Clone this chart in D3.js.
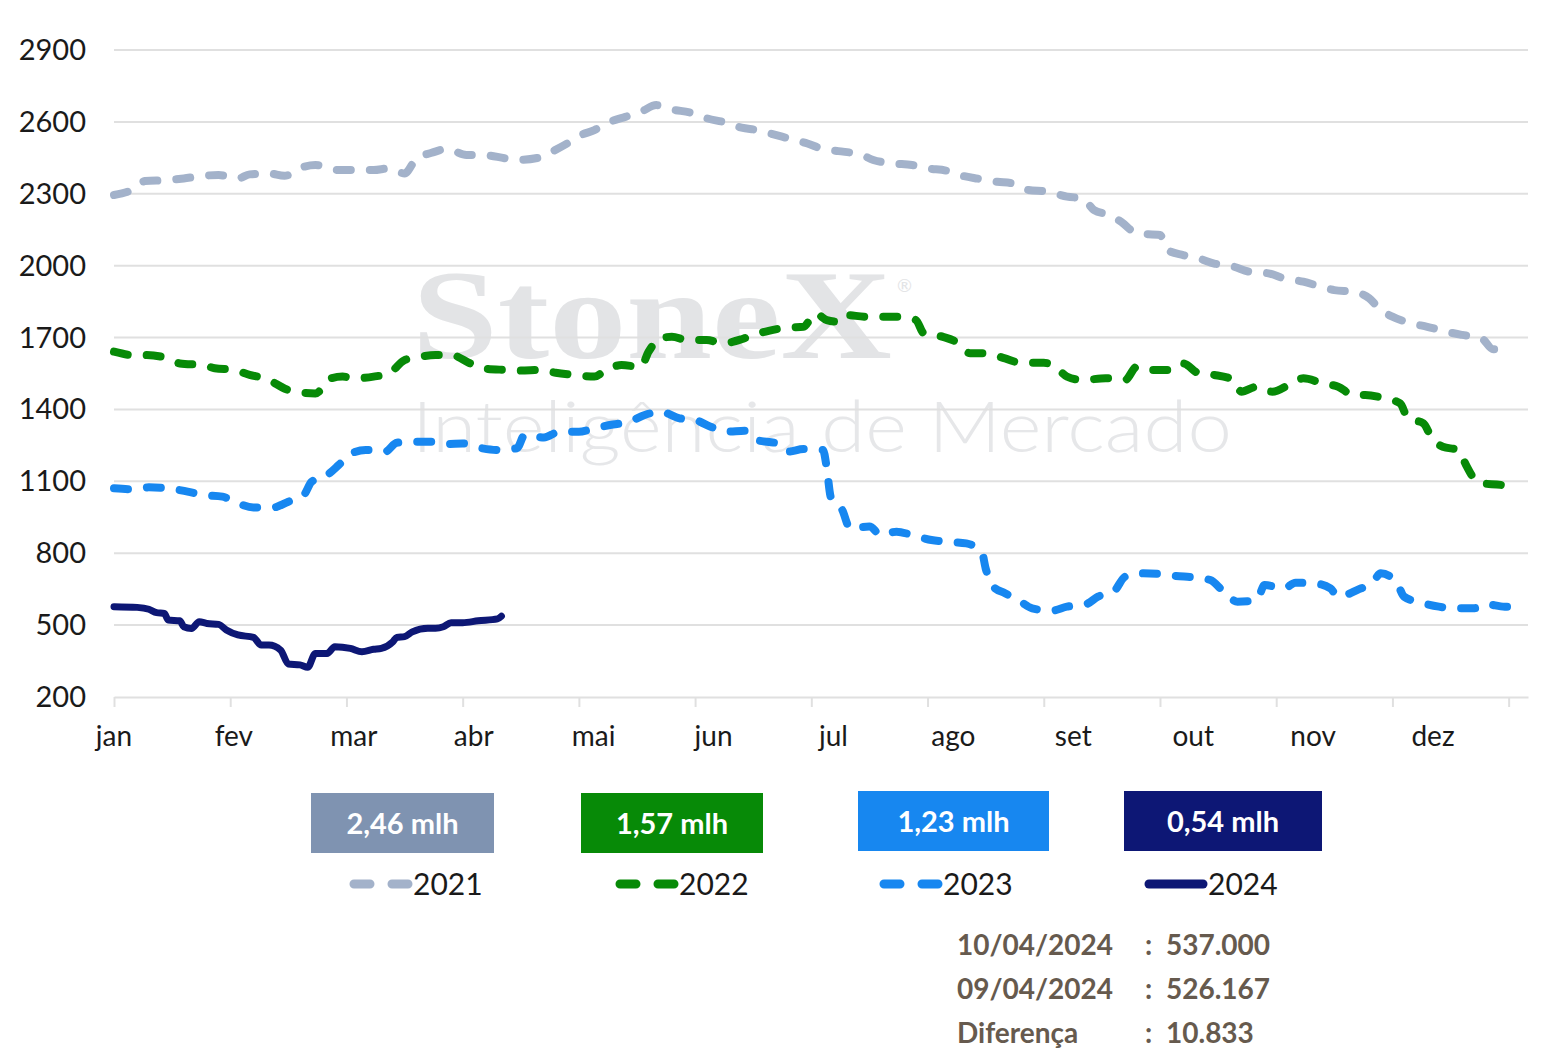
<!DOCTYPE html>
<html>
<head>
<meta charset="utf-8">
<script src="https://cdn.jsdelivr.net/npm/d3@7"></script>
<style>
  body { margin: 0; background: #fff; }
  svg text { font-family: Lato, "Noto Sans", sans-serif; }
</style>
</head>
<body>
<div id="chart"></div>
<script>
// months shown under the axis
var months = ['jan', 'fev', 'mar', 'abr', 'mai', 'jun', 'jul', 'ago', 'set', 'out', 'nov', 'dez'];
var yTicks = [200, 500, 800, 1100, 1400, 1700, 2000, 2300, 2600, 2900];
var years = ['2021', '2022', '2023', '2024'];
var avgLabels = ['2,46 mlh', '1,57 mlh', '1,23 mlh', '0,54 mlh'];

// [day of year, value]
var s2021 = [[0,2295],[5,2319],[8,2353],[14,2357],[18,2364],[23,2375],[27,2378],[32,2364],[35,2381],[40,2385],[44,2375],[49,2413],[52,2420],[58,2399],[62,2399],[67,2399],[71,2406],[75,2385],[78,2445],[82,2471],[86,2487],[91,2462],[95,2462],[101,2448],[104,2441],[110,2452],[113,2475],[117,2510],[120,2541],[124,2566],[128,2600],[132,2621],[136,2642],[140,2670],[144,2652],[149,2638],[153,2615],[158,2597],[162,2576],[166,2566],[170,2549],[175,2527],[179,2510],[183,2486],[187,2478],[193,2462],[196,2441],[201,2427],[206,2420],[210,2406],[215,2396],[219,2375],[223,2363],[228,2350],[232,2343],[236,2316],[241,2309],[246,2288],[250,2281],[253,2232],[257,2211],[260,2183],[264,2135],[270,2128],[272,2065],[276,2044],[280,2030],[284,2009],[289,1996],[293,1975],[298,1968],[302,1947],[307,1933],[311,1915],[315,1898],[320,1891],[324,1864],[327,1815],[330,1787],[335,1759],[339,1745],[344,1724],[348,1711],[353,1697],[356,1651],[361,1651]];

var s2022 = [[0,1641],[5,1627],[8,1627],[14,1613],[17,1592],[23,1585],[26,1572],[31,1565],[35,1544],[39,1530],[45,1481],[47,1474],[52,1467],[56,1530],[59,1537],[62,1530],[67,1537],[71,1551],[75,1606],[79,1620],[83,1627],[87,1627],[92,1592],[95,1572],[101,1565],[105,1562],[110,1565],[114,1553],[119,1544],[124,1537],[127,1565],[131,1585],[136,1578],[138,1641],[141,1697],[144,1703],[148,1690],[153,1690],[157,1676],[162,1693],[165,1711],[169,1728],[174,1742],[178,1745],[181,1801],[184,1773],[187,1766],[189,1794],[194,1787],[200,1787],[203,1787],[207,1773],[209,1718],[214,1703],[218,1676],[221,1634],[225,1634],[230,1613],[234,1595],[240,1595],[243,1578],[246,1537],[250,1523],[256,1530],[261,1523],[264,1578],[268,1565],[273,1565],[276,1592],[280,1551],[284,1544],[289,1523],[291,1474],[295,1495],[299,1474],[304,1509],[307,1530],[312,1509],[316,1495],[320,1460],[323,1460],[328,1446],[332,1425],[334,1363],[338,1342],[340,1286],[343,1244],[347,1231],[349,1168],[351,1113],[353,1092],[358,1085],[362,1071]];

var s2023 = [[0,1071],[5,1067],[9,1075],[14,1071],[19,1057],[23,1043],[28,1036],[32,1008],[36,991],[41,991],[45,1015],[49,1043],[51,1098],[55,1126],[58,1168],[61,1214],[65,1231],[70,1224],[73,1261],[77,1265],[82,1265],[86,1256],[90,1258],[95,1238],[99,1231],[104,1238],[106,1293],[111,1283],[115,1307],[120,1307],[124,1321],[128,1335],[133,1349],[137,1377],[141,1391],[146,1363],[150,1356],[154,1328],[158,1307],[163,1311],[166,1272],[171,1259],[174,1224],[178,1235],[183,1231],[184,1154],[185,1036],[188,980],[190,904],[195,911],[198,876],[202,890],[206,876],[211,855],[215,848],[220,841],[224,806],[225,737],[227,660],[230,633],[234,598],[237,570],[242,560],[246,577],[251,588],[254,619],[258,639],[261,702],[265,716],[270,713],[274,705],[279,699],[283,688],[286,647],[290,598],[295,605],[297,667],[302,653],[305,677],[310,674],[314,653],[316,619],[321,647],[325,681],[327,716],[331,681],[333,619],[338,591],[342,577],[346,570],[351,570],[354,588],[359,577],[364,577]];

var s2024 = [[0,577],[6,574],[9,566],[11,552],[13,549],[14,521],[17,518],[18,493],[20,486],[22,514],[24,507],[27,503],[29,480],[32,459],[36,449],[38,417],[40,417],[43,396],[45,338],[48,334],[50,324],[52,382],[55,382],[57,410],[61,403],[64,389],[67,399],[69,403],[72,431],[73,449],[75,452],[77,472],[81,487],[83,487],[85,493],[87,510],[90,510],[94,518],[99,526],[100,537]];

var infoDates = ['10/04/2024', '09/04/2024', 'Diferença'];
var infoValues = ['537.000', '526.167', '10.833'];

var lineColors = ['#A3B2CA', '#078A07', '#1787F0', '#0D1775'];
var boxColors = ['#7F93B1', '#078A07', '#1787F0', '#0D1775'];

var width = 1562, height = 1058;
var svg = d3.select('#chart').append('svg')
    .attr('width', width)
    .attr('height', height);

var x = d3.scaleLinear().domain([0, 365]).range([114, 1528]);
var y = d3.scaleLinear().domain([200, 2900]).range([697, 50]);
var labelX = d3.scaleLinear().domain([0, 11]).range([114, 1433]);

// watermark
svg.append('text')
    .attr('x', 412).attr('y', 358)
    .attr('textLength', 480).attr('lengthAdjust', 'spacingAndGlyphs')
    .style('font-family', '"Liberation Serif", serif')
    .style('font-weight', 'bold')
    .style('font-size', '128px')
    .attr('fill', '#E3E4E6')
    .text('StoneX');
svg.append('text')
    .attr('x', 897).attr('y', 292)
    .style('font-size', '18px')
    .attr('fill', '#E3E4E6')
    .text('®');
svg.append('text')
    .attr('x', 412).attr('y', 452)
    .attr('textLength', 820).attr('lengthAdjust', 'spacingAndGlyphs')
    .style('font-weight', 300)
    .style('font-size', '70px')
    .attr('fill', '#E6E7E9')
    .text('Inteligência de Mercado');

// gridlines
svg.append('g').selectAll('line').data(yTicks.slice(1)).enter().append('line')
    .attr('x1', 114).attr('x2', 1528)
    .attr('y1', function(d) { return y(d); })
    .attr('y2', function(d) { return y(d); })
    .attr('stroke', '#E0E0E0')
    .attr('stroke-width', 2);

// y labels
svg.append('g').selectAll('text').data(yTicks).enter().append('text')
    .attr('x', 86)
    .attr('y', function(d) { return y(d) + 10; })
    .attr('text-anchor', 'end')
    .style('font-size', '29px')
    .attr('fill', '#1a1a1a')
    .text(function(d) { return d; });

// x axis
var xAxis = d3.axisBottom(x)
    .tickValues(d3.range(0, 361, 30))
    .tickFormat('')
    .tickSize(10)
    .tickSizeOuter(0);
var gx = svg.append('g')
    .attr('transform', 'translate(0,' + y(200) + ')')
    .call(xAxis);
gx.select('.domain').attr('stroke', '#E0E0E0').attr('stroke-width', 2);
gx.selectAll('.tick line').attr('stroke', '#E0E0E0').attr('stroke-width', 2);

svg.append('g').selectAll('text').data(months).enter().append('text')
    .attr('x', function(d, i) { return labelX(i); })
    .attr('y', 746)
    .attr('text-anchor', 'middle')
    .style('font-size', '28px')
    .attr('fill', '#1a1a1a')
    .text(function(d) { return d; });

// lines
var line = d3.line()
    .x(function(d) { return x(d[0]); })
    .y(function(d) { return y(d[1]); })
    .curve(d3.curveMonotoneX);

var series = [s2021, s2022, s2023, s2024];
series.forEach(function(s, i) {
    var p = svg.append('path')
        .datum(s)
        .attr('d', line)
        .attr('fill', 'none')
        .attr('stroke', lineColors[i])
        .attr('stroke-width', i === 3 ? 7 : 8)
        .attr('stroke-linecap', 'round')
        .attr('stroke-linejoin', 'round');
    if (i < 3) p.attr('stroke-dasharray', '14,19');
});

// boxes with averages
var boxes = [[311, 793, 183], [581, 793, 182], [858, 791, 191], [1124, 791, 198]];
boxes.forEach(function(b, i) {
    svg.append('rect')
        .attr('x', b[0]).attr('y', b[1])
        .attr('width', b[2]).attr('height', 60)
        .attr('fill', boxColors[i]);
    svg.append('text')
        .attr('x', b[0] + b[2] / 2).attr('y', b[1] + 41)
        .attr('text-anchor', 'middle')
        .style('font-size', '29px')
        .style('font-weight', 'bold')
        .attr('fill', '#fff')
        .text(avgLabels[i]);
});

// legend
var legX = [350, 616, 880, 1145];
years.forEach(function(yr, i) {
    var g = svg.append('g').attr('transform', 'translate(' + legX[i] + ',884)');
    var l = g.append('line')
        .attr('x1', 4).attr('x2', 58)
        .attr('stroke', lineColors[i])
        .attr('stroke-width', 9)
        .attr('stroke-linecap', 'round');
    if (i < 3) l.attr('stroke-dasharray', '16,22');
    g.append('text')
        .attr('x', 63).attr('y', 11)
        .style('font-size', '30px')
        .attr('fill', '#1a1a1a')
        .text(yr);
});

// info block
infoDates.forEach(function(t, i) {
    var yy = 955 + i * 44;
    svg.append('text')
        .attr('x', 957).attr('y', yy)
        .style('font-size', '28px')
        .style('font-weight', 'bold')
        .attr('fill', '#665A4E')
        .text(t);
    svg.append('text')
        .attr('x', 1145).attr('y', yy)
        .style('font-size', '28px')
        .style('font-weight', 'bold')
        .attr('fill', '#665A4E')
        .text(':');
    svg.append('text')
        .attr('x', 1166).attr('y', yy)
        .style('font-size', '28px')
        .style('font-weight', 'bold')
        .attr('fill', '#665A4E')
        .text(infoValues[i]);
});
</script>
</body>
</html>
